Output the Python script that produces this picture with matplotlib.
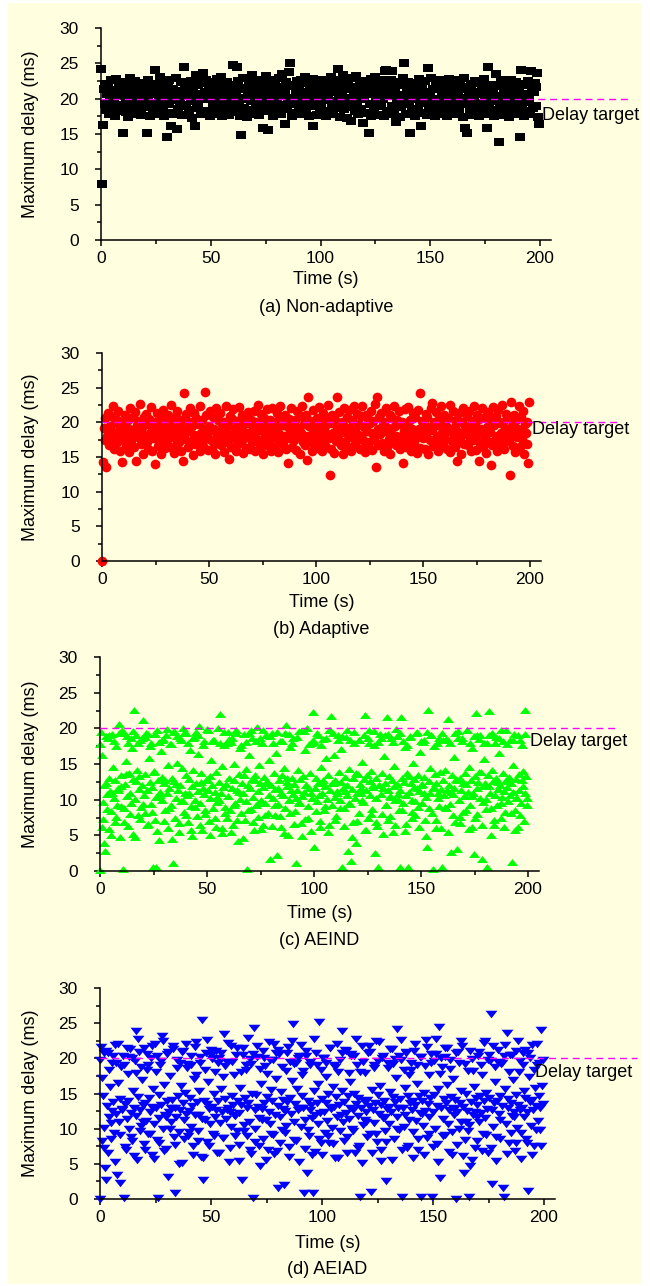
"""Maximum delay over time for four scheduling schemes (four stacked panels)."""

import matplotlib
matplotlib.use("Agg")
import matplotlib.pyplot as plt
import numpy as np
from matplotlib.patches import Rectangle
from matplotlib.ticker import MultipleLocator

plt.rcParams["font.family"] = ["Liberation Sans", "DejaVu Sans"]

BG_COLOR = "#FFFFE0"
TARGET_COLOR = "#FF00FF"
DELAY_TARGET = 20

# sample times (s): one reading every 0.4 s
time_s = np.arange(500) * 0.4
# extra readings for the AEIND / AEIAD runs, interleaved every 0.8 s
time_s_extra = 0.2 + np.arange(250) * 0.8

delay_nonadaptive = [
    24.2, 7.9, 16.3, 21.4, 19.2, 22.1, 18.4, 20.7, 21.9, 17.8, 19.6, 22.6, 20.3, 18.9, 21.2, 19.9, 17.6, 22.8, 20.5, 18.3, 21.7, 19.1, 20.9, 22.3, 18.7,
    15.1, 20.4, 22.4, 18.1, 19.5, 21.6, 17.4, 20.8, 22.9, 19.3, 18.6, 21.1, 20.2, 17.9, 22.5, 19.7, 21.8, 18.2, 20.6, 19.0, 22.2, 17.7, 21.3, 19.8, 20.1,
    21.5, 18.8, 15.2, 20.3, 22.7, 19.4, 17.5, 21.0, 20.6, 18.5, 22.1, 19.2, 24.0, 20.9, 17.8, 21.7, 19.6, 23.1, 18.3, 20.4, 22.4, 19.0, 17.6, 21.2, 20.0,
    14.6, 21.8, 19.3, 22.6, 18.0, 16.2, 20.7, 21.4, 17.9, 19.8, 22.9, 20.2, 15.7, 18.6, 21.1, 19.5, 22.3, 17.7, 20.8, 18.9, 24.5, 21.6, 19.1, 20.5, 22.0,
    18.4, 20.9, 22.5, 19.7, 17.3, 21.3, 20.1, 16.1, 23.4, 18.7, 21.9, 19.4, 20.6, 22.2, 17.8, 20.3, 23.6, 18.2, 21.0, 19.9, 22.7, 18.0, 20.8, 21.5, 17.6,
    20.4, 22.3, 18.5, 19.6, 21.7, 17.9, 20.9, 22.8, 19.1, 18.3, 21.2, 20.0, 23.0, 17.5, 19.8, 21.6, 20.5, 18.8, 22.4, 19.3, 21.0, 17.7, 20.2, 22.0, 18.6,
    24.8, 19.5, 21.8, 18.1, 20.6, 24.5, 22.5, 19.0, 17.6, 21.3, 14.8, 20.1, 22.9, 18.7, 19.9, 21.5, 17.4, 20.7, 22.2, 18.4, 21.1, 19.6, 23.3, 20.3, 17.8,
    21.7, 18.9, 20.5, 22.6, 19.2, 17.7, 21.4, 20.0, 22.1, 18.3, 15.8, 20.8, 19.4, 23.2, 21.0, 15.6, 18.6, 22.4, 20.2, 19.7, 21.9, 17.5, 20.6, 22.7, 18.8,
    19.8, 21.6, 18.2, 22.9, 20.4, 17.9, 23.5, 19.1, 21.2, 16.4, 20.7, 22.3, 18.5, 19.6, 23.8, 25.1, 20.1, 17.6, 22.0, 19.3, 21.8, 18.0, 20.9, 22.5, 19.7,
    18.7, 21.3, 20.3, 22.6, 17.8, 19.5, 21.0, 23.0, 18.4, 20.6, 22.2, 19.9, 17.5, 21.7, 20.0, 18.9, 22.8, 16.2, 20.5, 19.2, 21.4, 17.7, 22.4, 20.8, 18.6,
    21.1, 19.4, 22.7, 18.1, 20.2, 21.9, 17.6, 19.8, 22.3, 20.6, 18.3, 21.5, 23.1, 19.0, 17.9, 20.9, 22.0, 18.7, 21.2, 19.6, 24.2, 20.4, 17.4, 22.6, 19.3,
    20.7, 23.4, 18.5, 21.8, 19.1, 17.3, 22.4, 20.1, 18.8, 21.3, 16.8, 19.7, 22.9, 20.5, 18.2, 21.6, 23.2, 19.4, 17.8, 20.8, 22.1, 18.6, 21.0, 16.5, 20.3,
    19.9, 22.5, 18.0, 20.6, 21.7, 15.2, 19.2, 22.8, 17.6, 20.9, 21.4, 18.4, 23.0, 19.6, 20.2, 17.7, 22.2, 18.9, 21.1, 19.3, 22.6, 20.0, 17.5, 21.8, 23.9,
    24.1, 18.3, 21.5, 20.4, 17.9, 22.7, 19.0, 23.9, 20.8, 18.6, 21.2, 16.7, 19.8, 22.3, 20.1, 17.4, 21.9, 18.8, 20.5, 22.9, 25.0, 19.5, 17.8, 21.3, 20.2,
    22.4, 19.2, 15.2, 20.7, 18.1, 21.6, 19.9, 22.2, 17.6, 20.3, 21.1, 18.5, 22.8, 19.4, 20.9, 16.2, 21.7, 18.0, 20.1, 22.5, 19.6, 17.7, 24.3, 21.0, 18.9,
    20.5, 22.9, 18.4, 21.4, 19.1, 17.5, 22.3, 20.0, 18.7, 21.8, 22.6, 19.7, 17.8, 20.8, 21.2, 18.2, 22.0, 19.4, 20.6, 17.6, 21.5, 22.8, 18.6, 20.2, 19.3,
    21.9, 18.0, 20.4, 22.7, 19.5, 17.9, 21.1, 20.7, 18.5, 22.4, 19.8, 21.6, 17.4, 20.1, 22.9, 15.9, 19.2, 15.1, 21.3, 20.5, 18.3, 22.1, 19.6, 20.9, 17.7,
    20.3, 22.5, 18.8, 21.0, 19.4, 17.6, 22.2, 20.6, 18.1, 21.7, 19.0, 22.8, 20.0, 17.8, 21.4, 15.8, 24.5, 19.3, 20.8, 18.4, 22.0, 19.9, 21.2, 17.5, 20.4,
    23.5, 19.6, 21.8, 13.8, 20.2, 18.6, 22.6, 19.1, 17.7, 21.5, 20.9, 18.2, 22.3, 19.8, 20.4, 17.4, 21.6, 22.7, 18.9, 20.0, 19.3, 21.1, 17.9, 22.4, 20.6,
    18.5, 21.3, 14.6, 24.0, 20.1, 19.2, 22.1, 17.6, 20.7, 21.9, 18.3, 22.5, 19.5, 20.3, 17.8, 23.9, 21.4, 18.7, 20.9, 22.2, 19.0, 21.6, 23.6, 17.4, 16.4,
]

delay_adaptive = [
    0.0, 14.3, 19.2, 17.4, 20.6, 13.6, 18.1, 21.3, 16.7, 19.5, 20.9, 17.8, 18.6, 22.4, 16.2, 19.9, 18.3, 20.4, 17.1, 21.6, 18.8, 15.9, 19.4, 14.3, 20.1,
    17.6, 19.8, 21.1, 16.8, 18.5, 20.3, 15.7, 19.1, 22.0, 17.3, 18.9, 20.7, 16.4, 21.5, 18.2, 14.4, 19.6, 17.9, 20.2, 22.6, 16.9, 18.7, 19.3, 15.5, 20.8,
    18.0, 21.2, 17.2, 19.7, 16.1, 20.5, 18.4, 22.2, 15.8, 19.0, 17.7, 20.0, 14.0, 18.8, 21.4, 16.6, 19.4, 17.5, 20.6, 15.4, 18.3, 21.8, 17.0, 19.2, 16.3,
    19.9, 17.4, 21.0, 18.6, 16.5, 20.2, 22.5, 17.9, 19.3, 15.6, 18.1, 20.8, 16.8, 21.7, 18.9, 17.2, 19.6, 15.9, 20.4, 18.4, 14.4, 24.2, 17.6, 21.2, 19.0,
    16.4, 18.7, 20.1, 22.1, 17.1, 19.5, 15.3, 18.2, 21.4, 16.9, 20.6, 18.0, 19.8, 17.3, 22.3, 15.8, 18.5, 20.3, 16.6, 19.1, 24.4, 17.8, 21.0, 18.3, 16.0,
    19.4, 21.6, 17.5, 18.9, 16.2, 20.7, 19.0, 15.5, 22.0, 18.1, 17.0, 20.4, 18.6, 21.3, 16.7, 19.7, 17.8, 20.0, 15.7, 18.4, 22.4, 17.2, 19.5, 14.7, 20.9,
    18.2, 16.5, 20.5, 21.9, 17.7, 19.2, 15.9, 18.8, 20.2, 16.9, 22.2, 18.0, 19.6, 17.4, 21.1, 15.6, 18.6, 20.8, 16.3, 19.9, 17.9, 21.5, 18.4, 16.1, 20.3,
    17.1, 19.3, 21.7, 18.5, 15.8, 20.0, 17.6, 22.5, 18.9, 16.6, 19.8, 21.2, 17.3, 15.4, 20.6, 18.2, 19.5, 16.8, 21.9, 18.0, 17.5, 20.4, 15.9, 19.1, 22.1,
    18.7, 16.4, 20.1, 17.8, 21.4, 19.0, 15.7, 18.3, 22.3, 17.0, 20.7, 16.9, 19.6, 18.1, 21.0, 16.2, 19.4, 14.1, 20.5, 17.7, 18.8, 22.0, 16.5, 19.9, 17.4,
    20.3, 18.6, 16.0, 21.6, 17.9, 19.2, 15.5, 20.9, 18.4, 22.4, 17.2, 19.7, 16.7, 21.1, 18.0, 14.6, 23.7, 19.5, 17.5, 20.2, 15.8, 18.9, 21.8, 16.9, 19.3,
    18.1, 20.6, 16.3, 19.8, 22.2, 17.6, 18.7, 15.9, 21.3, 17.0, 19.4, 20.8, 16.5, 18.3, 22.5, 17.8, 12.4, 19.9, 16.1, 21.0, 18.5, 15.6, 20.4, 17.3, 19.1,
    23.7, 17.7, 21.5, 18.9, 16.8, 20.0, 15.4, 19.6, 22.0, 17.1, 18.4, 20.7, 16.4, 21.8, 19.2, 17.9, 15.8, 20.3, 18.6, 22.4, 16.9, 19.0, 17.4, 21.2, 18.2,
    19.7, 16.2, 20.9, 18.0, 22.3, 17.5, 19.3, 15.7, 21.1, 18.7, 16.6, 20.5, 17.2, 19.9, 21.7, 16.0, 18.4, 20.2, 17.8, 22.6, 13.6, 23.7, 19.0, 16.7, 20.8,
    18.3, 21.4, 17.0, 19.6, 15.9, 20.1, 18.8, 22.1, 16.4, 19.2, 17.6, 21.0, 15.5, 18.5, 20.6, 17.3, 22.4, 19.4, 16.8, 18.1, 20.3, 17.9, 21.6, 16.2, 19.8,
    20.0, 17.4, 14.1, 18.7, 21.9, 16.5, 19.5, 18.0, 22.2, 17.1, 20.4, 15.8, 19.0, 21.3, 16.9, 18.4, 20.7, 17.7, 15.6, 21.8, 19.1, 16.3, 24.2, 18.6, 20.2,
    17.8, 19.7, 16.1, 21.2, 18.3, 20.8, 15.4, 19.3, 17.5, 22.0, 22.8, 18.9, 16.6, 20.1, 17.2, 21.5, 18.1, 15.9, 19.6, 20.5, 16.8, 22.3, 18.5, 17.0, 19.9,
    21.0, 17.6, 19.4, 16.2, 20.6, 18.8, 22.5, 15.7, 19.1, 17.3, 21.7, 18.0, 16.5, 20.3, 19.8, 14.4, 18.6, 21.4, 17.1, 15.5, 20.0, 18.2, 22.1, 16.9, 19.5,
    18.4, 20.9, 16.7, 19.2, 21.6, 17.7, 15.8, 20.2, 18.9, 22.4, 17.4, 19.7, 16.0, 21.1, 18.3, 14.4, 20.5, 17.0, 19.0, 22.0, 16.4, 18.7, 20.7, 17.9, 15.6,
    19.3, 21.5, 17.2, 18.6, 20.4, 13.8, 16.8, 22.2, 19.6, 17.5, 20.9, 18.1, 15.9, 21.8, 16.5, 19.9, 18.4, 22.5, 17.1, 20.1, 16.2, 19.0, 21.2, 17.8, 18.8,
    20.6, 17.3, 12.4, 22.9, 19.4, 16.6, 21.0, 18.2, 15.7, 20.3, 17.9, 19.1, 22.3, 16.4, 18.7, 20.8, 17.6, 21.6, 15.5, 19.7, 18.5, 16.9, 20.0, 14.1, 22.9,
]

delay_aeind = [
    0.1, 19.5, 16.3, 9.7, 7.3, 3.9, 2.8, 12.4, 10.8, 18.6, 5.9, 13.1, 11.2, 8.4, 19.2, 14.6, 10.3, 6.8, 12.7, 17.5, 9.2, 11.6, 20.6, 4.7, 13.5,
    11.9, 19.7, 0.3, 8.9, 12.2, 15.4, 10.5, 18.9, 6.3, 13.8, 11.0, 9.6, 17.2, 12.9, 5.2, 22.6, 10.1, 19.1, 14.2, 7.8, 11.5, 13.3, 18.3, 9.0, 12.0,
    21.2, 10.7, 8.1, 13.6, 19.4, 11.3, 6.6, 15.9, 12.5, 9.4, 18.0, 11.8, 0.5, 14.0, 7.2, 10.4, 0.5, 19.8, 12.8, 4.4, 11.1, 16.8, 9.9, 13.2, 18.5,
    12.3, 8.6, 19.0, 10.9, 14.8, 6.0, 11.7, 17.8, 9.3, 13.0, 1.1, 12.6, 19.6, 7.5, 10.2, 15.2, 11.4, 5.5, 18.7, 12.1, 9.8, 14.4, 20.1, 8.3, 11.0,
    13.4, 19.3, 10.6, 6.9, 12.9, 17.0, 9.1, 11.9, 4.9, 14.1, 18.8, 10.0, 12.4, 7.7, 16.4, 11.2, 20.3, 9.5, 13.7, 5.8, 11.6, 18.2, 10.8, 8.0, 12.7,
    19.9, 11.4, 7.0, 13.3, 10.3, 15.6, 12.0, 8.8, 18.4, 11.1, 6.2, 13.9, 9.7, 20.0, 12.5, 22.0, 10.9, 5.3, 14.7, 11.8, 17.6, 9.0, 12.2, 7.4, 19.5,
    10.5, 13.1, 8.5, 18.1, 11.7, 6.5, 12.8, 15.0, 9.6, 19.7, 11.3, 4.2, 13.6, 10.1, 17.3, 8.2, 12.4, 11.0, 19.2, 7.1, 14.3, 9.8, 0.3, 12.0, 16.2,
    11.6, 8.7, 18.6, 12.9, 10.4, 5.7, 13.5, 9.2, 20.2, 11.2, 7.6, 14.9, 12.3, 10.0, 17.9, 6.4, 11.8, 13.2, 9.5, 19.0, 12.6, 8.1, 15.5, 10.7, 1.7,
    12.1, 19.4, 10.3, 13.7, 7.9, 11.5, 16.6, 2.2, 9.4, 12.8, 18.2, 11.0, 6.1, 13.4, 10.6, 14.5, 8.8, 20.4, 11.9, 12.5, 5.0, 9.9, 17.4, 11.3, 13.0,
    10.8, 18.7, 12.2, 8.4, 1.1, 11.4, 14.2, 9.6, 19.6, 12.9, 6.7, 10.5, 13.3, 11.1, 16.9, 7.3, 12.0, 20.0, 9.1, 11.7, 13.8, 5.6, 18.0, 10.2, 22.3,
    3.4, 11.6, 13.1, 9.8, 19.3, 12.4, 10.6, 7.0, 14.6, 11.0, 18.5, 12.7, 8.5, 11.9, 15.8, 10.1, 13.5, 6.4, 19.8, 11.3, 21.7, 9.3, 12.3, 16.3, 10.4,
    12.8, 7.7, 11.2, 19.1, 13.9, 10.0, 12.5, 17.1, 0.5, 11.7, 8.9, 13.2, 18.8, 10.7, 12.1, 2.8, 14.3, 9.4, 1.4, 11.5, 6.9, 13.0, 19.5, 10.3, 3.9,
    11.0, 13.6, 8.2, 18.3, 12.2, 10.9, 15.3, 9.7, 12.9, 5.8, 21.9, 11.4, 13.4, 7.5, 19.7, 10.6, 12.6, 14.0, 8.7, 11.8, 17.7, 2.5, 10.2, 13.1, 6.3,
    0.5, 12.0, 19.2, 10.8, 13.7, 8.0, 11.6, 16.1, 12.4, 9.2, 21.6, 11.3, 7.1, 13.3, 10.5, 18.6, 12.7, 5.4, 11.9, 14.7, 9.9, 19.9, 12.2, 10.1, 8.6,
    0.5, 11.4, 21.6, 13.0, 9.5, 12.5, 17.4, 10.7, 6.6, 13.8, 0.5, 11.1, 18.9, 12.3, 8.3, 10.0, 15.1, 12.9, 7.9, 19.4, 11.6, 13.5, 9.0, 11.2, 16.7,
    12.1, 9.6, 18.1, 11.0, 13.2, 7.2, 10.4, 3.4, 22.6, 12.6, 14.4, 10.9, 19.0, 8.1, 0.3, 11.8, 13.6, 6.0, 12.3, 17.9, 10.2, 9.1, 13.9, 11.5, 19.3,
    0.5, 12.7, 10.6, 14.1, 8.8, 11.3, 18.4, 21.3, 12.0, 9.4, 2.7, 13.4, 10.8, 16.0, 11.7, 6.8, 12.9, 3.1, 19.6, 10.0, 13.1, 7.6, 11.4, 18.7, 12.4,
    10.5, 13.8, 8.6, 12.2, 19.8, 11.1, 14.6, 9.3, 12.8, 6.2, 17.3, 10.9, 2.4, 13.3, 22.2, 11.6, 8.0, 12.5, 18.5, 10.3, 13.9, 1.7, 11.9, 9.7, 15.7,
    12.3, 10.1, 0.5, 13.5, 19.0, 22.4, 11.0, 8.9, 14.2, 12.6, 6.5, 10.7, 18.0, 13.0, 9.2, 11.5, 16.5, 12.1, 7.4, 19.7, 10.4, 13.7, 11.2, 8.3, 12.8,
    11.8, 17.8, 9.8, 13.2, 10.6, 12.4, 1.3, 14.8, 11.1, 19.2, 8.5, 12.9, 10.3, 6.1, 13.6, 11.4, 18.3, 9.6, 12.7, 14.0, 7.0, 22.6, 11.0, 13.3, 10.2,
]

delay_aeind_extra = [
    17.8, 6.2, 12.0, 18.9, 8.7, 19.0, 5.1, 10.9, 18.2, 7.6, 11.3, 19.3, 9.1, 19.3, 6.9, 13.6, 17.9, 8.0, 18.7, 19.6, 4.8, 12.6, 18.0, 7.3, 18.6,
    9.4, 18.8, 6.5, 19.2, 17.5, 8.3, 13.9, 19.2, 5.6, 18.1, 10.6, 18.4, 7.0, 12.8, 19.9, 8.9, 17.8, 4.5, 19.5, 12.2, 18.9, 6.7, 18.3, 9.8, 19.4,
    7.9, 18.0, 11.0, 5.7, 18.6, 9.0, 19.5, 19.1, 6.4, 12.5, 17.7, 8.5, 12.9, 19.7, 5.0, 18.2, 18.3, 7.4, 10.4, 10.0, 17.9, 6.0, 19.5, 8.2, 18.0,
    18.5, 5.5, 18.7, 9.3, 19.3, 7.1, 11.1, 17.6, 4.6, 13.4, 18.1, 8.6, 19.4, 19.8, 6.8, 12.7, 18.2, 9.6, 18.7, 5.9, 19.8, 7.8, 19.0, 12.4, 18.9,
    6.3, 17.9, 9.2, 19.5, 11.6, 7.7, 18.2, 5.3, 19.3, 13.1, 19.2, 8.1, 18.0, 6.6, 10.3, 18.8, 9.7, 19.6, 4.9, 19.6, 12.0, 7.5, 17.8, 10.9, 18.4,
    18.1, 8.4, 19.0, 6.1, 17.6, 12.4, 9.1, 18.6, 5.4, 19.8, 12.3, 19.4, 7.2, 10.9, 18.3, 8.8, 18.9, 6.3, 11.2, 19.7, 9.5, 18.4, 4.7, 18.0, 13.7,
    7.0, 18.3, 11.6, 9.9, 19.1, 5.8, 18.7, 17.9, 8.0, 12.1, 19.6, 6.9, 18.1, 12.1, 18.6, 5.2, 19.0, 9.3, 19.2, 7.7, 10.4, 18.1, 6.5, 18.9, 10.8,
    19.3, 8.6, 18.2, 5.6, 17.7, 13.3, 18.8, 7.4, 11.8, 9.8, 19.5, 6.2, 18.2, 12.2, 18.4, 4.9, 19.5, 8.9, 19.0, 11.6, 17.5, 7.1, 11.0, 18.7, 6.0,
    18.3, 9.0, 18.5, 5.5, 17.9, 11.1, 7.9, 19.4, 12.7, 18.6, 6.7, 18.2, 8.3, 10.5, 19.8, 5.9, 18.0, 10.5, 18.9, 7.5, 19.1, 13.9, 19.1, 6.4, 17.9,
    8.7, 18.0, 11.9, 5.0, 19.3, 7.2, 18.8, 12.5, 18.6, 9.5, 18.2, 6.1, 19.7, 12.6, 18.4, 8.1, 18.3, 5.7, 10.3, 19.0, 7.8, 17.6, 11.9, 19.2, 9.2,
]

delay_aeiad = [
    0.0, 21.6, 17.2, 14.6, 10.1, 7.3, 4.4, 2.7, 13.2, 20.8, 11.7, 15.9, 8.6, 12.5, 19.4, 13.8, 9.4, 21.9, 12.1, 3.4, 16.5, 11.0, 2.3, 14.2, 18.7,
    12.8, 20.3, 0.1, 13.5, 6.9, 11.4, 17.8, 14.0, 9.9, 21.3, 12.2, 8.2, 15.3, 13.0, 19.6, 23.9, 11.8, 5.6, 14.5, 20.9, 12.6, 10.4, 16.9, 13.3, 7.8,
    21.4, 13.7, 11.1, 18.3, 9.2, 14.3, 12.4, 20.1, 6.3, 13.1, 15.6, 10.7, 22.0, 12.9, 8.4, 0.1, 14.8, 11.5, 19.0, 13.4, 23.2, 10.0, 16.2, 12.0, 7.1,
    13.9, 20.6, 3.1, 12.3, 17.5, 10.9, 14.1, 21.7, 8.8, 13.0, 0.8, 11.6, 19.8, 14.7, 9.5, 12.7, 16.0, 5.1, 13.6, 21.0, 11.3, 15.1, 12.1, 18.6, 9.0,
    12.5, 14.4, 20.4, 10.3, 13.2, 7.5, 17.1, 11.9, 22.3, 13.8, 9.7, 15.4, 12.0, 19.3, 6.0, 25.5, 2.7, 14.0, 11.2, 20.7, 13.5, 8.1, 16.6, 12.8, 10.6,
    21.2, 13.1, 9.3, 14.9, 11.7, 18.0, 12.6, 6.6, 13.9, 20.0, 10.8, 15.7, 12.3, 8.7, 17.4, 23.5, 14.2, 11.4, 19.5, 13.0, 5.3, 12.4, 21.8, 10.2, 14.6,
    13.4, 17.6, 11.8, 20.5, 9.6, 14.0, 12.2, 7.7, 15.8, 13.3, 2.7, 21.5, 10.5, 14.3, 18.4, 12.9, 8.9, 13.7, 11.0, 19.9, 6.4, 15.0, 0.1, 24.3, 12.6,
    10.0, 14.8, 20.2, 13.1, 11.5, 4.7, 16.4, 12.8, 21.1, 8.5, 13.6, 18.9, 11.2, 14.5, 7.0, 12.4, 19.7, 10.6, 15.5, 13.9, 9.1, 22.1, 12.0, 17.0, 6.8,
    1.6, 13.2, 20.6, 11.6, 15.2, 9.8, 14.1, 2.0, 12.5, 18.2, 10.4, 13.8, 21.6, 7.4, 14.4, 12.1, 16.8, 24.9, 11.0, 19.2, 13.5, 8.3, 15.6, 12.7, 20.3,
    12.9, 10.2, 14.6, 17.7, 13.0, 0.8, 11.3, 21.0, 3.7, 14.0, 9.0, 12.6, 19.5, 13.4, 6.2, 0.8, 15.3, 11.9, 20.8, 13.7, 10.7, 16.3, 25.2, 12.2, 8.0,
    14.2, 20.0, 12.4, 9.4, 13.6, 17.3, 11.1, 14.9, 7.9, 21.4, 12.8, 10.1, 15.9, 13.1, 19.1, 5.8, 14.5, 11.7, 18.1, 13.3, 9.6, 12.0, 23.9, 15.4, 10.9,
    13.8, 21.2, 12.2, 8.8, 14.7, 11.4, 16.7, 13.0, 20.4, 9.9, 12.7, 15.0, 6.6, 13.5, 19.0, 11.8, 14.3, 7.6, 0.3, 12.9, 21.8, 10.5, 13.9, 17.9, 12.3,
    11.0, 14.1, 20.7, 13.2, 9.2, 1.0, 15.5, 12.6, 18.6, 10.8, 13.7, 22.4, 8.1, 14.8, 12.1, 16.1, 13.4, 5.4, 20.1, 11.5, 14.0, 9.7, 2.6, 12.8, 19.4,
    13.1, 10.6, 15.2, 12.4, 21.3, 14.5, 8.6, 13.8, 17.2, 11.7, 24.2, 12.9, 9.8, 14.2, 19.8, 0.3, 13.0, 10.3, 15.8, 12.0, 20.9, 7.3, 14.6, 11.3, 13.6,
    18.3, 12.7, 14.0, 9.5, 21.0, 13.3, 11.1, 16.4, 6.9, 14.7, 12.2, 20.2, 0.3, 13.9, 10.4, 15.1, 12.5, 22.6, 8.7, 13.5, 17.6, 11.6, 14.3, 19.3, 0.3,
    12.4, 14.8, 10.0, 20.6, 13.2, 7.8, 15.7, 24.5, 3.0, 12.9, 18.8, 11.4, 14.2, 9.1, 21.5, 13.7, 16.2, 10.7, 12.6, 19.7, 14.5, 6.2, 13.0, 17.0, 11.9,
    14.1, 0.0, 12.3, 20.9, 9.9, 13.6, 15.4, 11.0, 21.7, 13.1, 3.7, 8.4, 14.9, 12.5, 18.2, 0.3, 10.5, 4.7, 13.8, 19.9, 12.0, 15.9, 7.2, 14.4, 11.6,
    13.4, 20.3, 10.9, 14.6, 12.2, 17.6, 9.3, 13.9, 22.5, 11.5, 15.1, 12.8, 6.5, 14.3, 19.6, 26.3, 12.6, 2.1, 10.2, 13.7, 16.6, 8.8, 14.0, 21.2, 12.1,
    14.7, 11.3, 19.2, 13.2, 1.6, 0.3, 15.6, 10.6, 23.6, 12.9, 14.2, 8.0, 20.5, 13.6, 11.8, 16.9, 12.4, 6.8, 14.8, 21.1, 10.1, 13.3, 18.0, 12.7, 9.4,
    13.0, 20.7, 15.3, 11.7, 14.4, 8.6, 12.3, 1.1, 17.4, 13.8, 10.4, 21.9, 14.1, 12.6, 7.5, 15.8, 13.2, 19.0, 11.1, 14.6, 9.8, 12.9, 24.0, 16.1, 13.5,
]

delay_aeiad_extra = [
    19.8, 8.3, 20.7, 21.1, 6.5, 18.4, 10.8, 20.4, 5.2, 19.3, 22.0, 9.1, 12.6, 19.1, 7.4, 21.5, 20.2, 8.8, 20.0, 6.1, 17.9, 22.7, 9.6, 18.8, 11.0,
    7.0, 20.6, 19.0, 9.3, 21.8, 5.7, 18.1, 20.4, 8.0, 19.6, 22.4, 6.8, 11.6, 20.9, 9.9, 12.9, 21.3, 7.7, 18.6, 5.0, 19.3, 20.9, 8.5, 22.1, 19.2,
    9.5, 19.0, 6.3, 21.6, 17.7, 8.2, 20.2, 11.4, 5.9, 18.3, 22.6, 7.6, 20.5, 19.9, 9.0, 21.0, 19.4, 6.6, 20.7, 8.7, 18.9, 12.7, 22.2, 7.2, 19.5,
    12.0, 8.9, 21.4, 5.4, 18.0, 20.5, 9.7, 19.1, 22.9, 6.9, 19.2, 20.6, 8.1, 21.7, 7.5, 18.5, 11.3, 20.1, 5.6, 17.8, 22.3, 9.2, 19.7, 6.4, 20.8,
    21.2, 7.9, 18.7, 12.8, 9.4, 20.8, 6.0, 19.5, 22.5, 8.4, 19.4, 20.1, 5.3, 21.9, 18.2, 7.1, 20.3, 9.8, 19.0, 11.5, 22.8, 6.7, 19.0, 8.6, 18.4,
    6.2, 20.0, 19.3, 9.0, 21.5, 12.9, 7.8, 18.8, 22.0, 5.8, 19.8, 20.7, 8.3, 21.1, 6.6, 17.9, 20.6, 9.6, 20.3, 22.7, 7.3, 18.1, 5.1, 19.5, 11.2,
    8.8, 21.8, 20.9, 6.5, 19.1, 9.3, 19.6, 22.3, 7.0, 20.4, 11.6, 8.1, 18.6, 21.3, 5.5, 19.2, 19.9, 9.9, 20.4, 22.6, 6.9, 18.3, 20.8, 7.6, 17.7,
    19.3, 5.9, 22.1, 19.1, 8.6, 20.2, 12.1, 6.3, 18.9, 21.6, 9.2, 20.6, 7.4, 19.6, 22.8, 5.2, 17.8, 20.0, 8.9, 20.2, 21.4, 6.7, 18.5, 9.5, 12.8,
    20.7, 7.7, 19.4, 22.5, 6.1, 19.2, 11.0, 9.7, 21.0, 5.6, 18.2, 12.4, 8.2, 20.9, 19.0, 6.8, 22.2, 9.1, 19.7, 20.5, 7.2, 21.7, 18.7, 5.4, 19.5,
    8.5, 19.4, 20.3, 21.9, 6.4, 18.0, 9.4, 20.5, 11.7, 7.9, 22.4, 19.6, 5.7, 19.0, 21.2, 8.0, 20.8, 20.1, 6.2, 18.4, 9.8, 22.0, 19.3, 7.5, 19.8,
]

captions = ["(a) Non-adaptive", "(b) Adaptive", "(c) AEIND", "(d) AEIAD"]
series = [
    [(time_s, delay_nonadaptive)],
    [(time_s, delay_adaptive)],
    [(time_s, delay_aeind), (time_s_extra, delay_aeind_extra)],
    [(time_s, delay_aeiad), (time_s_extra, delay_aeiad_extra)],
]
colors = ["#000000", "#FF0000", "#00FF00", "#0000FF"]

# slightly wide marker shapes, as in the original export
square = [(-1, -0.8), (1, -0.8), (1, 0.8), (-1, 0.8)]
tri_up = [(-1, -0.62), (1, -0.62), (0, 0.62)]
tri_down = [(-1, 0.63), (1, 0.63), (0, -0.63)]
markers = [(square, 7.0), ("o", 7.0), (tri_up, 8.0), (tri_down, 8.6)]

# panel boxes in pixels: left, x at t=200, top, bottom, x-label y, caption y
boxes = [
    (101, 540, 28, 240, 280, 308),
    (102, 530, 353, 561, 603, 630),
    (100, 528, 657, 871, 913, 941),
    (100, 544, 988, 1199, 1243, 1270),
]
# where the "Delay target" note sits (data units)
note_pos = [(201, 17.6), (201, 18.9), (201, 18.2), (196, 18.0)]

W, H = 650, 1286
fig = plt.figure(figsize=(W / 100, H / 100), dpi=100)
fig.patch.set_facecolor("white")
fig.patches.append(Rectangle((8 / W, 2 / H), 634 / W, 1281 / H,
                             transform=fig.transFigure, facecolor=BG_COLOR,
                             edgecolor="none", zorder=-10))

for runs, color, (mk, ms), cap, box, (nx, ny) in zip(
        series, colors, markers, captions, boxes, note_pos):
    x0, x200, top, bot, xl_y, cap_y = box
    right = x0 + (x200 - x0) * 205 / 200
    ax = fig.add_axes([x0 / W, 1 - bot / H, (right - x0) / W, (bot - top) / H])
    ax.set_facecolor("none")
    for t, vals in runs:
        ax.plot(t, vals, ls="none", marker=mk, ms=ms, color=color,
                mec=color, mew=0, clip_on=False, zorder=2)
    ax.plot([0, 242], [DELAY_TARGET, DELAY_TARGET], color=TARGET_COLOR,
            lw=1.0, ls=(0, (5, 3.5)), clip_on=False, zorder=3)
    ax.text(nx, ny, "Delay target", fontsize=13, ha="left", va="center")

    ax.set_xlim(0, 205)
    ax.set_ylim(0, 30)
    ax.xaxis.set_major_locator(MultipleLocator(50))
    ax.xaxis.set_minor_locator(MultipleLocator(25))
    ax.yaxis.set_major_locator(MultipleLocator(5))
    ax.yaxis.set_minor_locator(MultipleLocator(2.5))
    ax.spines["top"].set_visible(False)
    ax.spines["right"].set_visible(False)
    for s in ("left", "bottom"):
        ax.spines[s].set_linewidth(1.1)
    ax.tick_params(which="both", direction="out", width=1.1, labelsize=12.5)
    ax.tick_params(which="major", length=4)
    ax.tick_params(which="minor", length=3)
    ax.tick_params(axis="y", which="major", pad=12)
    ax.tick_params(axis="x", which="major", pad=4)

    h = bot - top
    ax.set_ylabel("Maximum delay (ms)", fontsize=13)
    ax.yaxis.set_label_coords((31 - x0) / (right - x0), 0.5)
    ax.yaxis.label.set_va("center")
    ax.set_xlabel("Time (s)", fontsize=13)
    ax.xaxis.set_label_coords(0.5, -(xl_y - bot) / h)
    ax.xaxis.label.set_va("center")
    ax.text(0.5, -(cap_y - bot) / h, cap, transform=ax.transAxes,
            fontsize=13, ha="center", va="center")

fig.savefig("out.png", dpi=100, facecolor=fig.get_facecolor())
